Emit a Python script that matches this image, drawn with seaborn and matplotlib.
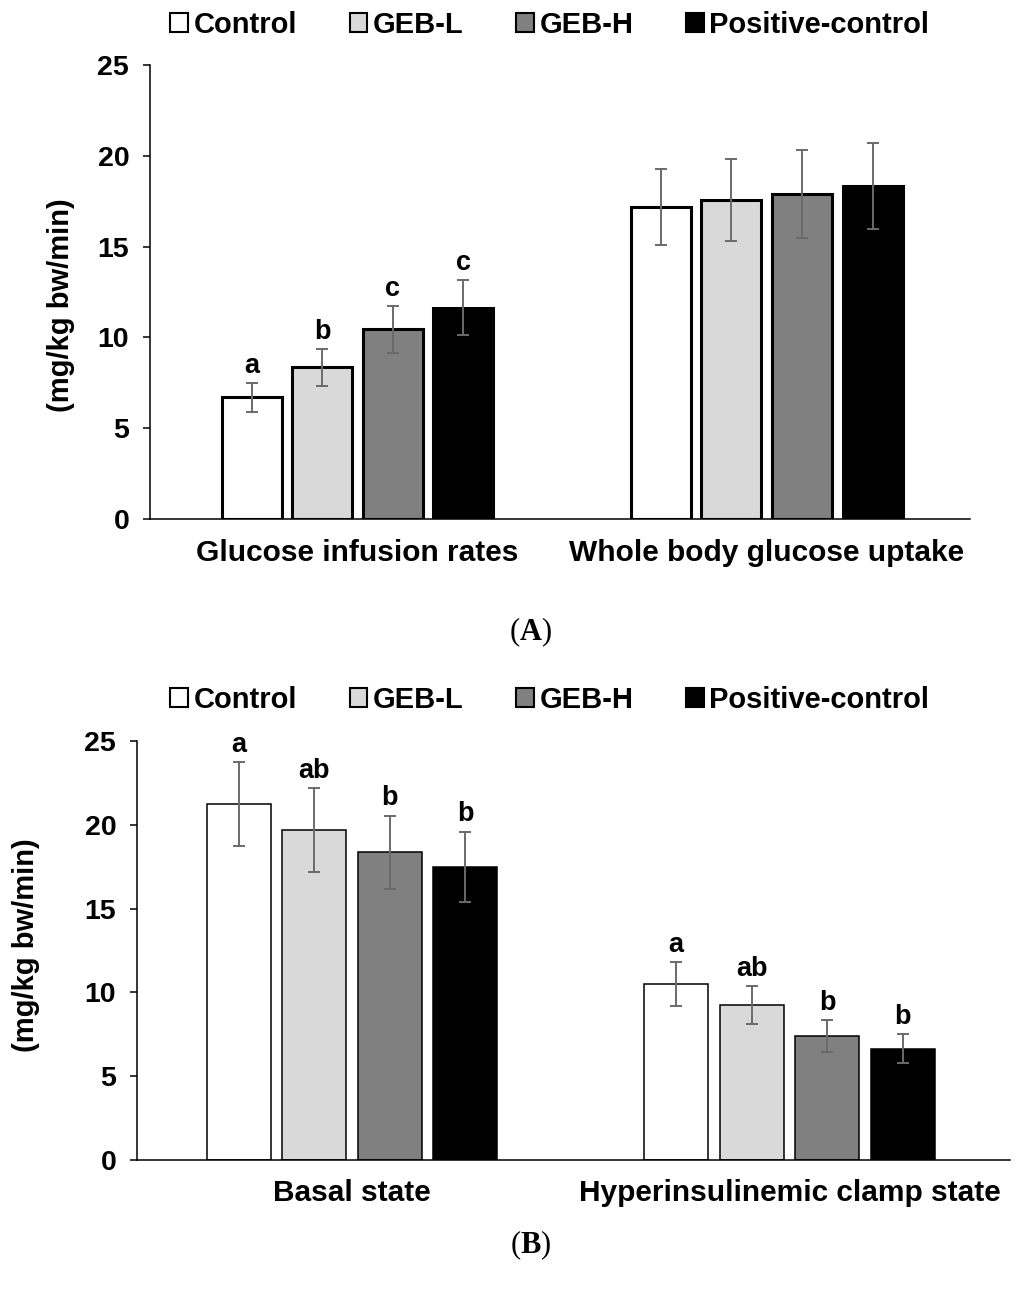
import pandas as pd
import matplotlib
matplotlib.use('Agg')
import matplotlib.pyplot as plt
import seaborn as sns
from matplotlib.patches import Patch

# Data
treatments = ['Control', 'GEB-L', 'GEB-H', 'Positive-control']
colors = ['#ffffff', '#d9d9d9', '#808080', '#000000']

groups_a = ['Glucose infusion rates', 'Whole body glucose uptake']
gir_mean = [6.7, 8.35, 10.45, 11.65]
gir_err = [0.8, 1.0, 1.3, 1.5]
gir_letters = ['a', 'b', 'c', 'c']
wbgu_mean = [17.2, 17.55, 17.9, 18.35]
wbgu_err = [2.1, 2.25, 2.4, 2.35]
wbgu_letters = ['', '', '', '']

groups_b = ['Basal state', 'Hyperinsulinemic clamp state']
basal_mean = [21.25, 19.7, 18.35, 17.5]
basal_err = [2.5, 2.5, 2.2, 2.1]
basal_letters = ['a', 'ab', 'b', 'b']
clamp_mean = [10.5, 9.25, 7.4, 6.65]
clamp_err = [1.3, 1.15, 0.95, 0.85]
clamp_letters = ['a', 'ab', 'b', 'b']

yticks = [0, 5, 10, 15, 20, 25]
ylabel = '(mg/kg bw/min)'


def make_df(groups, means, errs, letters):
    rows = []
    for g, m, e, l in zip(groups, means, errs, letters):
        for t, v, ev, lv in zip(treatments, m, e, l):
            rows.append({'group': g, 'treatment': t, 'value': v, 'err': ev, 'letter': lv})
    return pd.DataFrame(rows)


sns.set_style('white')
plt.rcParams['font.family'] = ['Liberation Sans', 'DejaVu Sans']
plt.rcParams['font.weight'] = 'bold'
plt.rcParams['text.color'] = 'black'
plt.rcParams['axes.labelcolor'] = 'black'
plt.rcParams['xtick.color'] = 'black'
plt.rcParams['ytick.color'] = 'black'
plt.rcParams['mathtext.fontset'] = 'custom'
plt.rcParams['mathtext.bf'] = 'Liberation Serif:bold'
plt.rcParams['mathtext.rm'] = 'Liberation Serif'


def draw_panel(ax, df, groups, edge_lw, xlim, label_x, label_y):
    sns.barplot(data=df, x='group', y='value', hue='treatment', order=groups,
                hue_order=treatments, palette=colors, saturation=1, width=0.69,
                gap=0.15, edgecolor='black', linewidth=edge_lw, errorbar=None,
                legend=False, ax=ax)
    for container, t in zip(ax.containers, treatments):
        sub = df[df['treatment'] == t].set_index('group').loc[groups]
        for bar, (_, row) in zip(container, sub.iterrows()):
            x = bar.get_x() + bar.get_width() / 2
            ax.errorbar(x, row['value'], yerr=row['err'], fmt='none', ecolor='#6a6a6a',
                        elinewidth=1.4, capsize=4.5, capthick=1.4, zorder=5)
            if row['letter']:
                ax.annotate(row['letter'], (x, row['value'] + row['err']), xytext=(0, 3),
                            textcoords='offset points', ha='center', va='bottom',
                            fontsize=19.5, fontweight='bold', color='black')
    ax.set_ylim(0, 25)
    ax.set_yticks(yticks)
    ax.set_xlim(*xlim)
    ax.set_xlabel('')
    ax.set_ylabel(ylabel, fontsize=21, fontweight='bold')
    ax.yaxis.set_label_coords(label_x, label_y)
    sns.despine(ax=ax)
    for s in ['left', 'bottom']:
        ax.spines[s].set_color('black')
        ax.spines[s].set_linewidth(1.1)
    ax.tick_params(axis='y', direction='out', length=5, width=1.1, labelsize=20.5, pad=10, left=True)
    ax.tick_params(axis='x', length=0, labelsize=21.5, pad=14)
    for lab in ax.get_xticklabels() + ax.get_yticklabels():
        lab.set_fontweight('bold')


fig = plt.figure(figsize=(10.24, 13.01), dpi=100)
ax_a = fig.add_axes([0.1465, 0.601, 0.8008, 0.349])
ax_b = fig.add_axes([0.1338, 0.1084, 0.8525, 0.322])

df_a = make_df(groups_a, [gir_mean, wbgu_mean], [gir_err, wbgu_err], [gir_letters, wbgu_letters])
df_b = make_df(groups_b, [basal_mean, clamp_mean], [basal_err, clamp_err], [basal_letters, clamp_letters])

draw_panel(ax_a, df_a, groups_a, 2.2, (-0.507, 1.497), -0.0915, 0.471)
draw_panel(ax_b, df_b, groups_b, 1.1, (-0.491, 1.504), -0.111, 0.513)

handles = [Patch(facecolor=c, edgecolor='black', linewidth=1.5) for c in colors]
for y in [0.981, 0.462]:
    fig.legend(handles, treatments, loc='center', bbox_to_anchor=(0.537, y), ncol=4,
               frameon=False, handlelength=0.6, handleheight=0.6, handletextpad=0.2,
               columnspacing=1.8, prop={'size': 21, 'weight': 'bold'})

fig.text(0.518, 0.5142, r'($\mathbf{A}$)', ha='center', va='center', fontsize=22,
         family='Liberation Serif', fontweight='normal')
fig.text(0.518, 0.043, r'($\mathbf{B}$)', ha='center', va='center', fontsize=22,
         family='Liberation Serif', fontweight='normal')

fig.savefig('out.png', dpi=100)
